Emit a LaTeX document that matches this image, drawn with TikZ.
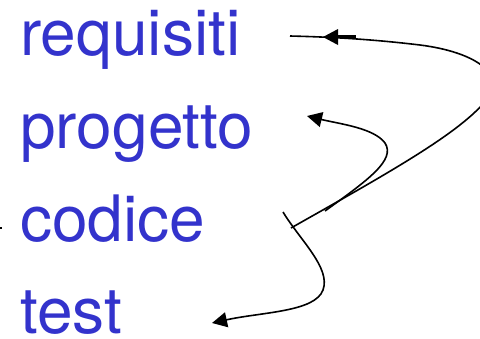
\documentclass[tikz,border=0pt]{standalone}
\usepackage{fontspec}
\setmainfont{TeX Gyre Heros}
\usetikzlibrary{arrows.meta}
\definecolor{phase}{RGB}{51,51,204}
\begin{document}
\begin{tikzpicture}[x=1pt,y=-1pt,
  phasename/.style={anchor=base west,inner sep=0pt,text=phase,
    font=\fontsize{64}{64}\selectfont},
  flow/.style={line width=1.6pt,black},
  tip/.style={-{Triangle[length=15pt,width=15pt]}}]
\useasboundingbox (0,0) rectangle (480,338);
\clip (0,0) rectangle (480,338);

% phase names
\node[phasename] (req)  at (20,55)  {requisiti};
\node[phasename] (prog) at (20,148) {progetto};
\node[phasename] (cod)  at (20,241) {codice};
\node[phasename] (tst)  at (20,333) {test};

% ends of the feedback curves
\coordinate (fork)    at (291,228);
\coordinate (merge)   at (325,211);
\coordinate (tickTop) at (283,212);
\coordinate (reqEnd)  at (290,36);
\coordinate (reqTip)  at (323,37);
\coordinate (progTip) at (307,116);
\coordinate (testTip) at (212,323);

% back to requisiti, looping out past the right edge
\draw[flow] (fork) .. controls (390,172) and (462,132) .. (488,98)
  .. controls (506,74) and (475,52) .. (420,45)
  .. controls (370,39) and (330,37) .. (reqEnd);
\fill (reqTip) -- (338,29) -- (338,45) -- cycle;
\draw[line width=3pt] (337,36.5) -- (356,36.5);

% back to progetto
\draw[flow,tip] (merge) .. controls (368,180) and (396,160) .. (385,143)
  .. controls (374,128) and (340,124) .. (progTip);

% forward from codice to test
\draw[flow,tip] (tickTop) .. controls (300,240) and (331,268) .. (323,290)
  .. controls (315,312) and (262,312) .. (testTip);

% small mark at the left edge
\draw[line width=1.2pt] (-2,228) -- (2,228);
\end{tikzpicture}
\end{document}
